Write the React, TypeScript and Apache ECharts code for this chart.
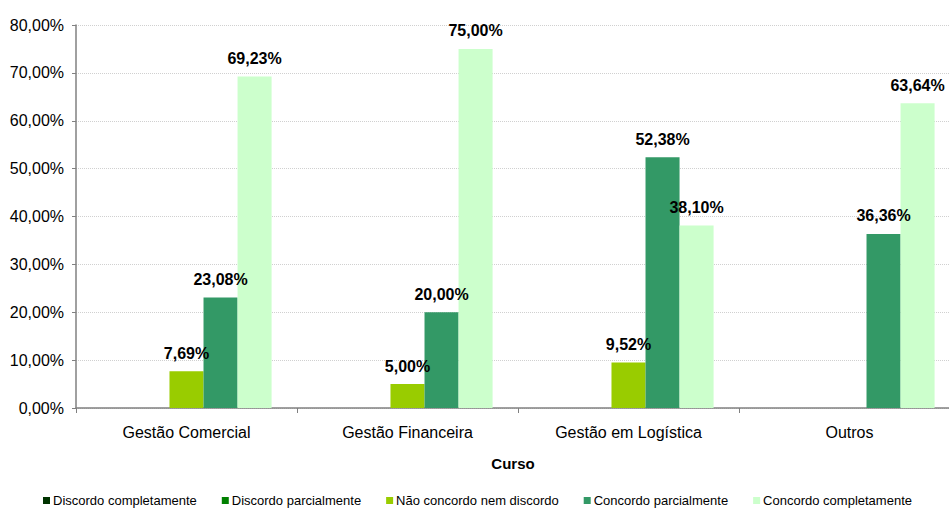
import React, { useEffect, useRef } from "react";
import * as echarts from "echarts";

const categories = ["Gestão Comercial", "Gestão Financeira", "Gestão em Logística", "Outros"];
const seriesNames = [
  "Discordo completamente",
  "Discordo parcialmente",
  "Não concordo nem discordo",
  "Concordo parcialmente",
  "Concordo completamente",
];
const discordoCompletamente: (number | null)[] = [null, null, null, null];
const discordoParcialmente: (number | null)[] = [null, null, null, null];
const naoConcordo: (number | null)[] = [7.69, 5.0, 9.52, null];
const concordoParcialmente: (number | null)[] = [23.08, 20.0, 52.38, 36.36];
const concordoCompletamente: (number | null)[] = [69.23, 75.0, 38.1, 63.64];
const colors = ["#003300", "#008000", "#99CC00", "#339966", "#CCFFCC"];

const fmt = (v: number) => v.toFixed(2).replace(".", ",") + "%";

export default function App() {
  const ref = useRef<HTMLDivElement>(null);
  useEffect(() => {
    if (!ref.current) return;
    const chart = echarts.init(ref.current, null, { renderer: "svg" });
    const data = [discordoCompletamente, discordoParcialmente, naoConcordo, concordoParcialmente, concordoCompletamente];
    const font = "'Liberation Sans', Arial, sans-serif";
    chart.setOption({
      animation: false,
      textStyle: { fontFamily: font },
      grid: { left: 76, top: 25, bottom: 104, right: 0, containLabel: false },
      legend: {
        bottom: 0,
        left: 38,
        itemWidth: 7,
        itemHeight: 7,
        itemGap: 25,
        icon: "rect",
        textStyle: { fontSize: 13, color: "#000", fontFamily: font, padding: [0, 0, 0, -2] },
        data: seriesNames,
      },
      xAxis: {
        type: "category",
        data: categories,
        name: "Curso",
        nameLocation: "middle",
        nameGap: 48,
        nameTextStyle: { fontWeight: "bold", fontSize: 15, color: "#000", fontFamily: font, padding: [0, 10, 0, 0] },
        axisLine: { lineStyle: { color: "#808080", width: 1.5 } },
        axisTick: { show: true, length: 5, lineStyle: { color: "#808080" } },
        axisLabel: { fontSize: 16, color: "#000", margin: 16, fontFamily: font },
      },
      yAxis: {
        type: "value",
        min: 0,
        max: 80,
        interval: 10,
        axisLine: { show: true, lineStyle: { color: "#808080", width: 1.5 } },
        axisTick: { show: true, length: 4, lineStyle: { color: "#808080" } },
        axisLabel: { fontSize: 16, color: "#000", margin: 12, fontFamily: font, formatter: (v: number) => fmt(v) },
        splitLine: { lineStyle: { color: "#d0d0d0", type: "dotted" } },
      },
      series: seriesNames.map((name, i) => ({
        name,
        type: "bar",
        data: data[i],
        barGap: "0%",
        barCategoryGap: "23%",
        itemStyle: { color: colors[i] },
        label: {
          show: true,
          position: "top",
          distance: 10,
          fontWeight: "bold",
          fontSize: 16,
          color: "#000",
          fontFamily: font,
          formatter: (p: any) => (p.value == null ? "" : fmt(p.value)),
        },
      })),
    });
    return () => chart.dispose();
  }, []);
  return (
    <div style={{ width: 949, height: 512, position: "absolute", left: 0, top: 0, overflow: "hidden" }}>
      <div ref={ref} style={{ width: 960, height: 512, position: "absolute", left: 0, top: 0 }} />
    </div>
  );
}
